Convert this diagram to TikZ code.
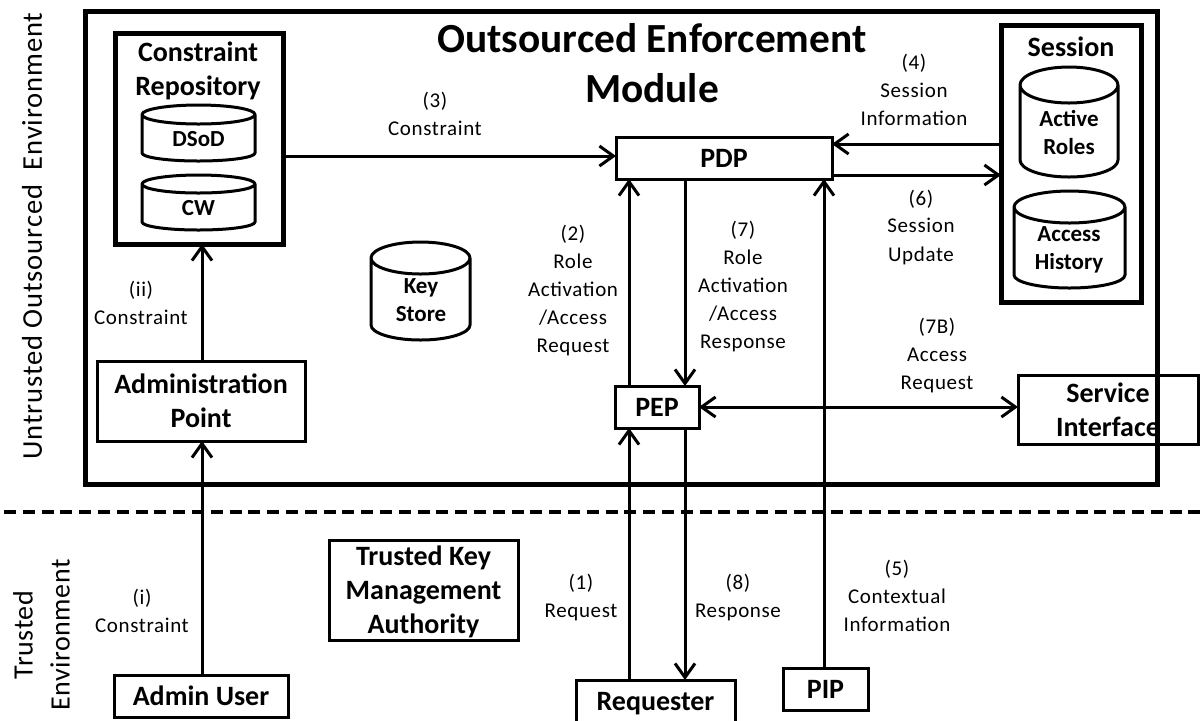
\documentclass[tikz,border=0pt]{standalone}
\usepackage{fontspec}
\setmainfont{Carlito}
\usetikzlibrary{arrows.meta}
\tikzset{
 x=0.5pt,y=-0.5pt,
 thickbox/.style={draw=black,line width=2.5pt,inner sep=0pt,outer sep=0pt},
 thinbox/.style={draw=black,line width=1.5pt,inner sep=0pt,outer sep=0pt,align=center,font=\fontsize{14}{17}\selectfont\bfseries},
 barrel/.style={draw=black,line width=1.5pt,line join=round},
 barreltext/.style={align=center,inner sep=0pt,font=\fontsize{11.5}{14}\selectfont\bfseries},
 flow/.style={draw=black,line width=1.5pt,-{Straight Barb[length=7pt,width=10pt,line width=1.5pt]}},
 bothflow/.style={draw=black,line width=1.5pt,{Straight Barb[length=7pt,width=10pt,line width=1.5pt]}-{Straight Barb[length=7pt,width=10pt,line width=1.5pt]}},
 plainlabel/.style={align=center,inner sep=0pt,font=\fontsize{10.5}{14}\selectfont\addfontfeatures{LetterSpace=3}},
 heading/.style={align=center,inner sep=0pt,font=\fontsize{14}{17}\selectfont\bfseries},
 bigtitle/.style={align=center,inner sep=0pt,font=\fontsize{20.7}{25}\selectfont\bfseries},
 sidelabel/.style={align=center,inner sep=0pt,rotate=90,font=\fontsize{14.3}{18.5}\selectfont\addfontfeatures{LetterSpace=3}},
 sidelabelb/.style={align=center,inner sep=0pt,rotate=90,font=\fontsize{14}{18.5}\selectfont\addfontfeatures{LetterSpace=2}},
}
% \barrelat{cx}{left}{right}{top}{bottom}{top ry px}{bottom ry px}
\newcommand{\barrelat}[7]{%
 \draw[barrel] (#2,#4+#6) arc[start angle=180,end angle=-180,x radius={(#3-#2)*0.25pt},y radius={#6*0.5pt}]
   -- (#2,#5-#7) arc[start angle=180,end angle=360,x radius={(#3-#2)*0.25pt},y radius={#7*0.5pt}] -- (#3,#4+#6);
}
\begin{document}
\begin{tikzpicture}
\useasboundingbox (0,0) rectangle (1200,720);
% containers
\node[thickbox,minimum width=536pt,minimum height=236.5pt] (outer) at (621,247.5) {};
\node[thickbox,minimum width=84pt,minimum height=105.5pt] (repo) at (199,138.5) {};
\node[thickbox,minimum width=70pt,minimum height=138.5pt] (session) at (1071,163.5) {};
% dashed boundary
\coordinate (dl) at (4,512); \coordinate (dr) at (1200,512);
\draw[line width=1.6pt,dash pattern=on 6pt off 3.4pt] (dl) -- (dr);
% boxes
\node[thinbox,minimum width=108pt,minimum height=21pt] (pdp) at (724,158) {PDP};
\node[thinbox,minimum width=42pt,minimum height=21pt] (pep) at (657,407) {PEP};
\node[thinbox,minimum width=90pt,minimum height=34.5pt] (svc) at (1108,409.5) {Service\\Interface};
\node[thinbox,minimum width=104pt,minimum height=40pt] (admin) at (201,401) {Administration\\Point};
\node[thinbox,minimum width=94.5pt,minimum height=50pt] (tkma) at (423.5,590) {\rule{0pt}{12pt}Trusted Key\\Management\\Authority};
\node[thinbox,minimum width=87pt,minimum height=21pt] (auser) at (201,696) {Admin User};
\node[thinbox,minimum width=79.5pt,minimum height=24pt] (req) at (655.5,704) {Requester};
\node[thinbox,minimum width=42.5pt,minimum height=21pt] (pip) at (825.5,689) {PIP};
% cylinders
\barrelat{198.5}{142}{255}{105}{161}{9.5}{8}
\barrelat{198.5}{142}{255}{175}{230}{9}{8}
\barrelat{1069}{1020}{1118}{67}{177}{18}{17}
\barrelat{1069.5}{1014}{1125}{191}{288}{16}{13}
\barrelat{420.5}{371}{470}{242}{340}{16}{15}
% cylinder text
\node[barreltext] (tdsod) at (198.5,139) {DSoD};
\node[barreltext] (tcw) at (198.5,208) {CW};
\node[barreltext] (tactive) at (1069,132) {Active\\Roles};
\node[barreltext] (thist) at (1069,250) {Access\\History};
\node[barreltext] (tkey) at (421,300.5) {Key\\Store};
% headings
\node[bigtitle] (title) at (652,63) {Outsourced Enforcement\\Module};
\node[heading] (trepo) at (198,71) {Constraint\\Repository};
\node[heading] (tsess) at (1071,47) {Session};
% connectors
\draw[flow] (repo.east |- 0,156) -- (pdp.west |- 0,156);
\draw[flow] (admin.north -| 202,0) -- (repo.south -| 202,0);
\draw[flow] (auser.north -| 202,0) -- (admin.south -| 202,0);
\draw[flow] (req.north -| 629,0) -- (pep.south -| 629,0);
\draw[flow] (pep.south -| 685,0) -- (req.north -| 685,0);
\draw[flow] (pep.north -| 629,0) -- (pdp.south -| 629,0);
\draw[flow] (pdp.south -| 685,0) -- (pep.north -| 685,0);
\draw[flow] (pip.north -| 824,0) -- (pdp.south -| 824,0);
\draw[flow] (session.west |- 0,144) -- (pdp.east |- 0,144);
\draw[flow] (pdp.east |- 0,175) -- (session.west |- 0,175);
\draw[bothflow] (pep.east) -- (svc.west |- pep.east);
% labels
\node[plainlabel] (l3) at (435,114) {(3)\\Constraint};
\node[plainlabel] (l4) at (914,90) {(4)\\Session\\Information};
\node[plainlabel] (l6) at (921,227) {(6)\\Session\\Update};
\node[plainlabel] (l2) at (573,290) {(2)\\Role\\Activation\\/Access\\Request};
\node[plainlabel] (l7) at (743,286) {(7)\\Role\\Activation\\/Access\\Response};
\node[plainlabel] (l7b) at (937,355) {(7B)\\Access\\Request};
\node[plainlabel] (lii) at (141,303) {(ii)\\Constraint};
\node[plainlabel] (li) at (142,611) {(i)\\Constraint};
\node[plainlabel] (l1) at (581,597) {(1)\\Request};
\node[plainlabel] (l8) at (738,597) {(8)\\Response};
\node[plainlabel] (l5) at (897,596) {(5)\\Contextual\\Information};
\node[sidelabel] (s1) at (32,236) {Untrusted Outsourced\ \ Environment};
\node[sidelabelb] (s2) at (41.5,635) {Trusted\\Environment};
\end{tikzpicture}
\end{document}
